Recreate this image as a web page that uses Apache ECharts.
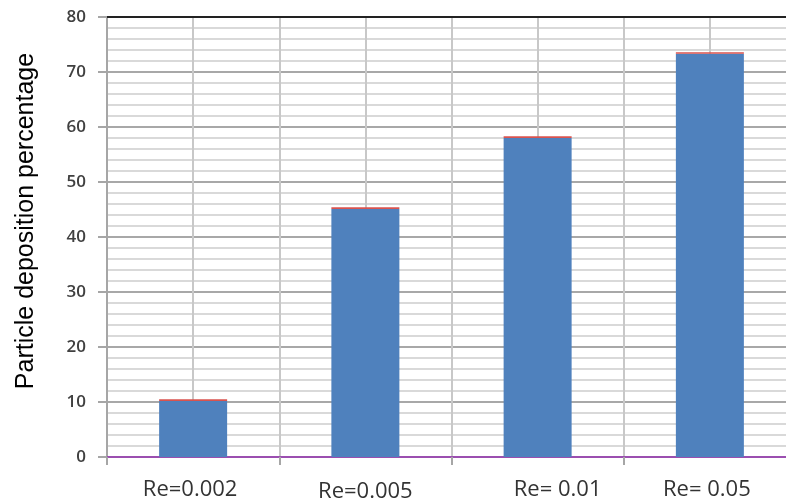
<!DOCTYPE html>
<html>
<head>
<meta charset="utf-8">
<script src="https://cdn.jsdelivr.net/npm/echarts@6/dist/echarts.min.js"></script>
<style>
  html, body { margin: 0; padding: 0; background: #fff; }
  #wrap { width: 786px; height: 502px; overflow: hidden; position: relative; }
  /* plot runs a little past the right edge of the picture */
  #zhe { position: absolute; left: 0; top: 0; width: 797px; height: 502px; }
</style>
</head>
<body>
<div id="wrap"><div id="zhe"></div></div>
<script>
var categories = ['Re=0.002', 'Re=0.005', 'Re= 0.01', 'Re= 0.05'];
var deposition = [10.2, 45.1, 58.0, 73.3];
var cap = [0.3, 0.3, 0.3, 0.3]; // thin red top on each bar
var yTicks = [0, 10, 20, 30, 40, 50, 60, 70, 80];

var mChart = echarts.init(document.getElementById('zhe'));
mChart.setOption({
  animation: false,
  grid: {
    left: 107,
    right: 1,
    top: 17,
    bottom: 45,
    containLabel: false,
    outerBoundsMode: 'none'
  },
  xAxis: [
    {
      type: 'category',
      data: categories,
      axisLine: { lineStyle: { color: '#9b4fb0', width: 2 } },
      axisTick: {
        show: true,
        length: 8,
        lineStyle: { color: '#a6a6a6', width: 2 }
      },
      splitLine: { show: false },
      axisLabel: {
        interval: 0,
        margin: 22,
        fontFamily: 'Open Sans',
        fontSize: 22,
        color: '#333',
        formatter: function (v, i) {
          return '{l' + i + '|' + v + '}';
        },
        rich: {
          l0: { fontFamily: 'Open Sans', fontSize: 22, color: '#333', padding: [0, 6, 0, 0] },
          l1: { fontFamily: 'Open Sans', fontSize: 22, color: '#333', padding: [2, 0, 0, 0] },
          l2: { fontFamily: 'Open Sans', fontSize: 22, color: '#333', padding: [0, 0, 3, 40] },
          l3: { fontFamily: 'Open Sans', fontSize: 22, color: '#333', padding: [0, 6, 3, 0] }
        }
      }
    },
    {
      // only used for the vertical grid and the dark top border
      type: 'value',
      position: 'top',
      min: 0,
      max: 4,
      interval: 0.5,
      axisLine: { show: true, lineStyle: { color: '#222', width: 2 } },
      axisTick: { show: false },
      axisLabel: { show: false },
      splitLine: { show: true, lineStyle: { color: '#c8c8c8', width: 2 } }
    }
  ],
  yAxis: {
    type: 'value',
    min: yTicks[0],
    max: yTicks[yTicks.length - 1],
    interval: 10,
    name: 'Particle deposition percentage',
    nameLocation: 'middle',
    nameGap: 68,
    nameTextStyle: {
      fontFamily: 'Liberation Sans',
      fontSize: 25,
      color: '#000',
      padding: [0, 0, 0, 32]
    },
    axisLine: { show: true, lineStyle: { color: '#a6a6a6', width: 2 } },
    axisTick: { show: true, length: 9, lineStyle: { color: '#a6a6a6', width: 2 } },
    axisLabel: {
      margin: 21,
      fontFamily: 'Open Sans',
      fontSize: 17,
      fontWeight: 600,
      color: '#404040'
    },
    splitLine: { show: true, lineStyle: { color: '#a8a8a8', width: 2 } },
    minorTick: { show: false, splitNumber: 5 },
    minorSplitLine: { show: true, lineStyle: { color: '#d9d9d9', width: 2 } }
  },
  series: [
    {
      name: 'deposition',
      type: 'bar',
      stack: 'a',
      xAxisIndex: 0,
      barWidth: 68,
      data: deposition,
      itemStyle: { color: '#4f81bd' }
    },
    {
      name: 'cap',
      type: 'bar',
      stack: 'a',
      xAxisIndex: 0,
      barWidth: 68,
      data: cap,
      itemStyle: { color: '#d9534f' }
    }
  ]
});
</script>
</body>
</html>
